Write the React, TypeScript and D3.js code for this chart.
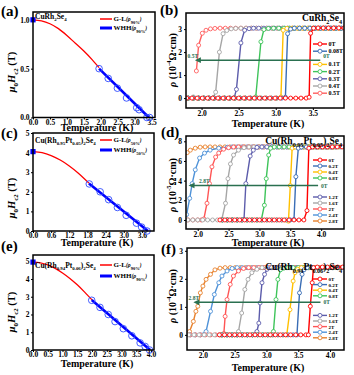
import { useEffect, useRef } from 'react';
import * as d3 from 'd3';

type Pt = [number, number];
type Part = [string, string];

const SERIF = "'Liberation Serif','Times New Roman',serif";

// ---------- (a) CuRh2Se4 : upper critical field ----------
const aTempTicks = [0, 0.5, 1, 1.5, 2, 2.5, 3, 3.5];
const aFieldTicks = [0, 0.5, 1];
const aGLTemp = [0, 0.25, 0.5, 0.75, 1, 1.25, 1.5, 1.75, 1.95];
const aGLField = [1.0, 0.99, 0.96, 0.91, 0.84, 0.76, 0.68, 0.59, 0.51];
const aWHHTemp = [1.95, 3.42];
const aWHHField = [0.5, 0];
const aPointTemp = [1.95, 2.22, 2.49, 2.76, 3.06, 3.13, 3.36, 3.44];
const aPointField = [0.5, 0.4, 0.3, 0.2, 0.1, 0.08, 0, 0];
const aHc0 = 1.0;

// ---------- (c) Cu(Rh0.95Pt0.05)2Se4 ----------
const cTempTicks = [0, 0.6, 1.2, 1.8, 2.4, 3.0, 3.6];
const cFieldTicks = [0, 1, 2, 3, 4, 5];
const cGLTemp = [0, 0.3, 0.6, 0.9, 1.2, 1.5, 1.85];
const cGLField = [4.05, 4.0, 3.85, 3.62, 3.32, 2.95, 2.44];
const cWHHTemp = [1.85, 3.8];
const cWHHField = [2.42, 0];
const cPointTemp = [1.86, 2.22, 2.5, 2.79, 3.08, 3.42, 3.59, 3.77];
const cPointField = [2.4, 2.0, 1.6, 1.2, 0.8, 0.4, 0.2, 0];
const cHc0 = 4.05;

// ---------- (e) Cu(Rh0.94Pt0.06)2Se4 ----------
const eTempTicks = [0, 0.5, 1, 1.5, 2, 2.5, 3, 3.5, 4];
const eFieldTicks = [0, 1, 2, 3, 4, 5];
const eGLTemp = [0, 0.25, 0.5, 0.75, 1, 1.25, 1.5, 1.75, 2.0];
const eGLField = [4.95, 4.91, 4.79, 4.6, 4.34, 4.03, 3.67, 3.26, 2.82];
const eWHHTemp = [1.99, 3.97];
const eWHHField = [2.82, 0];
const ePointTemp = [1.99, 2.27, 2.55, 2.78, 3.06, 3.35, 3.63, 3.8, 3.95];
const ePointField = [2.8, 2.4, 2.0, 1.6, 1.2, 0.8, 0.4, 0.2, 0];
const eHc0 = 4.95;

// ---------- (b) CuRh2Se4 : rho(T) under field ----------
const bTempTicks = [2.0, 2.5, 3.0, 3.5];
const bRhoTicks = [0, 1, 2, 3];
const bFields = ['0T', '0.08T', '0.1T', '0.2T', '0.3T', '0.4T', '0.5T'];
const b0T: Pt[] = [[1.8,0],[1.87,0],[1.94,0],[2.01,0],[2.08,0],[2.15,0],[2.22,0],[2.29,0],[2.36,0],[2.43,0],[2.5,0],[2.57,0],[2.64,0],[2.71,0],[2.78,0],[2.85,0],[2.92,0],[2.99,0],[3.06,0],[3.13,0],[3.2,0],[3.27,0],[3.34,0],[3.41,0],[3.45,0.04],[3.47,2.82],[3.51,3.04],[3.57,3.05],[3.64,3.05],[3.71,3.05],[3.78,3.05],[3.85,3.05],[3.92,3.05]];
const b008T: Pt[] = [[1.82,0],[1.89,0],[1.96,0],[2.03,0],[2.1,0],[2.17,0],[2.24,0],[2.31,0],[2.38,0],[2.45,0],[2.52,0],[2.59,0],[2.66,0],[2.73,0],[2.8,0],[2.87,0],[2.94,0],[3.01,0],[3.08,0],[3.13,0.04],[3.16,2.8],[3.2,3.0],[3.25,3.04],[3.32,3.04],[3.39,3.04],[3.46,3.04],[3.53,3.04],[3.6,3.04],[3.67,3.04],[3.74,3.04],[3.81,3.04],[3.88,3.04]];
const b01T: Pt[] = [[1.82,0],[1.89,0],[1.96,0],[2.03,0],[2.1,0],[2.17,0],[2.24,0],[2.31,0],[2.38,0],[2.45,0],[2.52,0],[2.59,0],[2.66,0],[2.73,0],[2.8,0],[2.87,0],[2.94,0],[3.01,0],[3.07,0.05],[3.1,2.95],[3.15,3.03],[3.22,3.04],[3.29,3.04],[3.36,3.04],[3.43,3.04],[3.5,3.04],[3.57,3.04],[3.64,3.04],[3.71,3.04],[3.78,3.04],[3.85,3.04]];
const b02T: Pt[] = [[1.82,0],[1.89,0],[1.96,0],[2.03,0],[2.1,0],[2.17,0],[2.24,0],[2.31,0],[2.38,0],[2.45,0],[2.52,0],[2.59,0],[2.66,0],[2.73,0.05],[2.8,2.45],[2.84,2.98],[2.9,3.03],[2.97,3.04],[3.04,3.04],[3.11,3.04],[3.18,3.04],[3.25,3.04],[3.32,3.04],[3.39,3.04],[3.46,3.04],[3.53,3.04],[3.6,3.04],[3.67,3.04],[3.74,3.04],[3.81,3.04],[3.88,3.04]];
const b03T: Pt[] = [[1.82,0],[1.89,0],[1.96,0],[2.03,0],[2.1,0],[2.17,0],[2.24,0],[2.31,0],[2.38,0],[2.44,0.02],[2.47,0.38],[2.53,2.4],[2.58,2.95],[2.64,3.02],[2.7,3.04],[2.77,3.04],[2.84,3.04],[2.91,3.04],[2.98,3.04],[3.05,3.04],[3.12,3.04],[3.19,3.04],[3.26,3.04],[3.33,3.04],[3.4,3.04],[3.47,3.04],[3.54,3.04],[3.61,3.04],[3.68,3.04],[3.75,3.04],[3.82,3.04],[3.89,3.04]];
const b04T: Pt[] = [[1.82,0],[1.89,0.05],[1.96,0],[2.03,0],[2.1,0],[2.16,0.03],[2.19,0.26],[2.24,2.0],[2.29,2.8],[2.34,2.94],[2.4,3.01],[2.46,3.03],[2.53,3.04],[2.6,3.04],[2.67,3.04],[2.74,3.04],[2.81,3.04],[2.88,3.04],[2.95,3.04],[3.02,3.04],[3.09,3.04],[3.16,3.04],[3.23,3.04],[3.3,3.04],[3.37,3.04],[3.44,3.04],[3.51,3.04],[3.58,3.04],[3.65,3.04],[3.72,3.04],[3.79,3.04],[3.86,3.04]];
const b05T: Pt[] = [[1.93,1.18],[1.96,2.3],[2.01,2.82],[2.06,2.95],[2.12,3.01],[2.18,3.03],[2.25,3.04],[2.32,3.04],[2.39,3.04],[2.46,3.04],[2.53,3.04],[2.6,3.04],[2.67,3.04],[2.74,3.04],[2.81,3.04],[2.88,3.04],[2.95,3.04],[3.02,3.04],[3.09,3.04],[3.16,3.04],[3.23,3.04],[3.3,3.04],[3.37,3.04],[3.44,3.04],[3.51,3.04],[3.58,3.04],[3.65,3.04],[3.72,3.04],[3.79,3.04],[3.86,3.04]];
const bArrowRho = 1.65;
const bArrowTemp = [1.91, 3.6];

// ---------- (d) Cu(Rh0.95Pt0.05)2Se4 : rho(T) ----------
const dTempTicks = [2.0, 2.5, 3.0, 3.5, 4.0];
const dRhoTicks = [0, 2, 4, 6, 8];
const dFields = ['0T', '0.2T', '0.4T', '0.8T', '1.2T', '1.6T', '2T', '2.4T', '2.8T'];
const d0T: Pt[] = [[2.36,0],[2.44,0],[2.52,0],[2.6,0],[2.68,0],[2.76,0],[2.84,0],[2.92,0],[3.0,0],[3.08,0],[3.16,0],[3.24,0],[3.32,0],[3.4,0],[3.48,0],[3.56,0],[3.64,0],[3.72,0],[3.77,0.95],[3.8,7.3],[3.86,7.43],[3.94,7.43],[4.02,7.43],[4.1,7.43],[4.18,7.43],[4.26,7.43],[4.34,7.43],[4.42,7.43]];
const d02T: Pt[] = [[2.4,0],[2.48,0],[2.56,0],[2.64,0],[2.72,0],[2.8,0],[2.88,0],[2.96,0],[3.04,0],[3.12,0],[3.2,0],[3.28,0],[3.36,0],[3.44,0],[3.5,0],[3.56,0.05],[3.59,4.4],[3.63,7.3],[3.68,7.42],[3.76,7.43],[3.84,7.43],[3.92,7.43],[4.0,7.43],[4.08,7.43],[4.16,7.43],[4.24,7.43],[4.32,7.43]];
const d04T: Pt[] = [[2.4,0],[2.48,0],[2.56,0],[2.64,0],[2.72,0],[2.8,0],[2.88,0],[2.96,0],[3.04,0],[3.12,0],[3.2,0],[3.28,0],[3.36,0],[3.42,0],[3.47,-0.12],[3.5,3.5],[3.53,7.3],[3.58,7.42],[3.66,7.43],[3.74,7.43],[3.82,7.43],[3.9,7.43],[3.98,7.43],[4.06,7.43],[4.14,7.43],[4.22,7.43],[4.3,7.43]];
const d08T: Pt[] = [[2.4,0],[2.48,0],[2.56,0],[2.64,0],[2.72,0],[2.8,0],[2.88,0],[2.96,0],[3.03,0],[3.08,1.5],[3.11,4.2],[3.15,6.6],[3.18,7.3],[3.24,7.42],[3.32,7.43],[3.4,7.43],[3.48,7.43],[3.56,7.43],[3.64,7.43],[3.72,7.43],[3.8,7.43],[3.88,7.43],[3.96,7.43],[4.04,7.43],[4.12,7.43],[4.2,7.43],[4.28,7.43]];
const d12T: Pt[] = [[2.4,0],[2.48,0],[2.56,0],[2.64,0],[2.71,0],[2.75,0.05],[2.78,3.7],[2.85,6.5],[2.9,7.1],[2.96,7.38],[3.04,7.43],[3.12,7.43],[3.2,7.43],[3.28,7.43],[3.36,7.43],[3.44,7.43],[3.52,7.43],[3.6,7.43],[3.68,7.43],[3.76,7.43],[3.84,7.43],[3.92,7.43],[4.0,7.43],[4.08,7.43],[4.16,7.43],[4.24,7.43]];
const d16T: Pt[] = [[1.84,0],[1.92,0],[2.0,0],[2.08,0],[2.16,0],[2.24,0],[2.32,0],[2.39,0.05],[2.45,1.7],[2.49,4.2],[2.53,5.7],[2.58,6.6],[2.66,7.1],[2.75,7.35],[2.83,7.42],[2.91,7.43],[2.99,7.43],[3.07,7.43],[3.15,7.43],[3.23,7.43],[3.31,7.43],[3.39,7.43],[3.47,7.43],[3.55,7.43],[3.63,7.43],[3.71,7.43],[3.79,7.43],[3.87,7.43],[3.95,7.43],[4.03,7.43],[4.11,7.43],[4.19,7.43]];
const d2T: Pt[] = [[1.84,0],[1.92,0],[2.0,0],[2.06,0],[2.1,0.1],[2.15,1.7],[2.19,3.7],[2.23,5.4],[2.29,6.4],[2.34,6.8],[2.42,7.2],[2.5,7.35],[2.58,7.42],[2.66,7.43],[2.74,7.43],[2.82,7.43],[2.9,7.43],[2.98,7.43],[3.06,7.43],[3.14,7.43],[3.22,7.43],[3.3,7.43],[3.38,7.43],[3.46,7.43],[3.54,7.43],[3.62,7.43],[3.7,7.43],[3.78,7.43],[3.86,7.43],[3.94,7.43],[4.02,7.43],[4.1,7.43],[4.18,7.43]];
const d24T: Pt[] = [[1.82,0.55],[1.87,2.2],[1.91,3.7],[1.96,5.1],[2.03,6.3],[2.11,6.8],[2.2,7.1],[2.34,7.3],[2.48,7.4],[2.56,7.43],[2.64,7.43],[2.72,7.43],[2.8,7.43],[2.88,7.43],[2.96,7.43],[3.04,7.43],[3.12,7.43],[3.2,7.43],[3.28,7.43],[3.36,7.43],[3.44,7.43],[3.52,7.43],[3.6,7.43],[3.68,7.43],[3.76,7.43],[3.84,7.43],[3.92,7.43],[4.0,7.43],[4.08,7.43],[4.16,7.43]];
const d28T: Pt[] = [[1.83,6.85],[1.88,7.1],[1.96,7.3],[2.04,7.4],[2.12,7.43],[2.2,7.43],[2.28,7.43],[2.36,7.43],[2.44,7.43],[2.52,7.43],[2.6,7.43],[2.68,7.43],[2.76,7.43],[2.84,7.43],[2.92,7.43],[3.0,7.43],[3.08,7.43],[3.16,7.43],[3.24,7.43],[3.32,7.43],[3.4,7.43],[3.48,7.43],[3.56,7.43],[3.64,7.43],[3.72,7.43],[3.8,7.43],[3.88,7.43],[3.96,7.43],[4.04,7.43],[4.12,7.43],[4.2,7.43]];
const dArrowRho = 3.5;
const dArrowTemp = [1.85, 3.95];

// ---------- (f) Cu(Rh0.94Pt0.06)2Se4 : rho(T) ----------
const fTempTicks = [2.0, 2.5, 3.0, 3.5, 4.0];
const fRhoTicks = [0, 1, 2, 3];
const fFields = ['0T', '0.2T', '0.4T', '0.8T', '1.2T', '1.6T', '2T', '2.4T', '2.8T'];
const f0T: Pt[] = [[2.26,0],[2.34,0],[2.42,0],[2.5,0],[2.58,0],[2.66,0],[2.74,0],[2.82,0],[2.9,0],[2.98,0],[3.06,0],[3.14,0],[3.22,0],[3.3,0],[3.38,0],[3.46,0],[3.54,0],[3.62,0],[3.66,0],[3.69,1.02],[3.72,1.86],[3.74,2.4],[3.8,2.42],[3.88,2.42],[3.96,2.42],[4.04,2.42],[4.12,2.42],[4.2,2.42],[4.3,2.42]];
const f02T: Pt[] = [[2.3,0],[2.38,0],[2.46,0],[2.54,0],[2.62,0],[2.7,0],[2.78,0],[2.86,0],[2.94,0],[3.02,0],[3.1,0],[3.18,0],[3.26,0],[3.34,0],[3.42,0],[3.48,0],[3.52,1.5],[3.56,2.16],[3.59,2.32],[3.64,2.4],[3.72,2.4],[3.8,2.4],[3.88,2.4],[3.96,2.4],[4.04,2.4],[4.12,2.4],[4.2,2.4]];
const f04T: Pt[] = [[2.3,0],[2.38,0],[2.46,0],[2.54,0],[2.62,0],[2.7,0],[2.78,0],[2.86,0],[2.94,0],[3.02,0],[3.1,0],[3.18,0],[3.26,0],[3.32,0],[3.37,0.9],[3.42,1.92],[3.45,2.22],[3.49,2.34],[3.55,2.4],[3.63,2.4],[3.71,2.4],[3.79,2.4],[3.87,2.4],[3.95,2.4],[4.03,2.4],[4.11,2.4],[4.19,2.4]];
const f08T: Pt[] = [[2.3,0],[2.38,0],[2.46,0],[2.54,0],[2.62,0],[2.7,0],[2.78,0],[2.86,0],[2.94,0],[3.02,0],[3.07,0],[3.11,0.12],[3.15,1.26],[3.18,1.98],[3.22,2.32],[3.27,2.38],[3.34,2.4],[3.42,2.4],[3.5,2.4],[3.58,2.4],[3.66,2.4],[3.74,2.4],[3.82,2.4],[3.9,2.4],[3.98,2.4],[4.06,2.4],[4.14,2.4]];
const f12T: Pt[] = [[2.3,0],[2.38,0],[2.46,0],[2.54,0],[2.62,0],[2.7,0],[2.78,0],[2.85,0.12],[2.88,0.42],[2.9,1.14],[2.93,1.86],[2.97,2.16],[3.01,2.34],[3.08,2.4],[3.16,2.4],[3.24,2.4],[3.32,2.4],[3.4,2.4],[3.48,2.4],[3.56,2.4],[3.64,2.4],[3.72,2.4],[3.8,2.4],[3.88,2.4],[3.96,2.4],[4.04,2.4],[4.12,2.4]];
const f16T: Pt[] = [[1.78,0],[1.86,0],[1.94,0],[2.02,0],[2.1,0],[2.18,0],[2.26,0],[2.34,0],[2.42,0],[2.5,0],[2.56,0.12],[2.61,0.78],[2.66,1.62],[2.71,1.98],[2.77,2.22],[2.85,2.34],[2.93,2.4],[3.01,2.4],[3.09,2.4],[3.17,2.4],[3.25,2.4],[3.33,2.4],[3.41,2.4],[3.49,2.4],[3.57,2.4],[3.65,2.4],[3.73,2.4],[3.81,2.4],[3.89,2.4],[3.97,2.4],[4.05,2.4],[4.13,2.4]];
const f2T: Pt[] = [[1.8,0],[1.88,0],[1.96,0],[2.04,0],[2.12,0],[2.2,0],[2.28,0],[2.33,0.05],[2.35,0.66],[2.38,1.26],[2.43,1.8],[2.48,2.1],[2.56,2.28],[2.64,2.37],[2.72,2.4],[2.8,2.4],[2.88,2.4],[2.96,2.4],[3.04,2.4],[3.12,2.4],[3.2,2.4],[3.28,2.4],[3.36,2.4],[3.44,2.4],[3.52,2.4],[3.6,2.4],[3.68,2.4],[3.76,2.4],[3.84,2.4],[3.92,2.4],[4.0,2.4],[4.08,2.4],[4.16,2.4]];
const f24T: Pt[] = [[1.8,0],[1.88,0],[1.96,0],[2.02,0.02],[2.05,0.12],[2.12,0.84],[2.18,1.44],[2.25,1.86],[2.3,2.1],[2.38,2.28],[2.46,2.37],[2.54,2.4],[2.62,2.4],[2.7,2.4],[2.78,2.4],[2.86,2.4],[2.94,2.4],[3.02,2.4],[3.1,2.4],[3.18,2.4],[3.26,2.4],[3.34,2.4],[3.42,2.4],[3.5,2.4],[3.58,2.4],[3.66,2.4],[3.74,2.4],[3.82,2.4],[3.9,2.4],[3.98,2.4],[4.06,2.4],[4.14,2.4]];
const f28T: Pt[] = [[1.79,0.12],[1.85,0.48],[1.89,0.84],[1.92,1.02],[1.96,1.5],[2.0,1.74],[2.05,1.98],[2.12,2.16],[2.19,2.32],[2.27,2.38],[2.35,2.4],[2.43,2.4],[2.51,2.4],[2.59,2.4],[2.67,2.4],[2.75,2.4],[2.83,2.4],[2.91,2.4],[2.99,2.4],[3.07,2.4],[3.15,2.4],[3.23,2.4],[3.31,2.4],[3.39,2.4],[3.47,2.4],[3.55,2.4],[3.63,2.4],[3.71,2.4],[3.79,2.4],[3.87,2.4],[3.95,2.4],[4.03,2.4],[4.11,2.4]];
const fArrowRho = 1.16;
const fArrowTemp = [1.85, 3.85];

const aTitle: Part[] = [['CuRh', ''], ['2', 'sub'], ['Se', ''], ['4', 'sub']];
const cTitle: Part[] = [['Cu(Rh', ''], ['0.95', 'sub'], ['Pt', ''], ['0.05', 'sub'], [')', ''], ['2', 'sub'], ['Se', ''], ['4', 'sub']];
const eTitle: Part[] = [['Cu(Rh', ''], ['0.94', 'sub'], ['Pt', ''], ['0.06', 'sub'], [')', ''], ['2', 'sub'], ['Se', ''], ['4', 'sub']];

const palette7 = ['#ff0000', '#3a6db5', '#ffc000', '#3ec45a', '#5c5cab', '#a6a6a6', '#ff6060'];
const palette9 = ['#ff0000', '#3a6db5', '#ffc000', '#3ec45a', '#5c5cab', '#a6a6a6', '#ff5555', '#4f92d8', '#e8812c'];
const ARROW = '#2a7050';

function rich(text: any, parts: Part[], size: number) {
  let shift = 0;
  parts.forEach(([s, k]) => {
    const small = k === 'sub' || k === 'sup';
    const target = k === 'sub' ? size * 0.3 : k === 'sup' ? -size * 0.42 : 0;
    text.append('tspan')
      .attr('dy', target - shift)
      .attr('font-size', small ? size * 0.65 : k === 'smi' ? size * 0.8 : size)
      .attr('font-style', k === 'i' || k === 'smi' ? 'italic' : null)
      .text(s);
    shift = target;
  });
}

function styleAxis(g: any) {
  g.select('.domain').remove();
  g.selectAll('line').attr('stroke', '#000').attr('stroke-width', 1);
  g.selectAll('text')
    .attr('font-family', SERIF)
    .attr('font-size', 7.5)
    .attr('font-weight', 'bold')
    .attr('fill', '#000');
}

function label(svg: any, txt: string, x: number, y: number, size: number) {
  svg.append('text').attr('x', x).attr('y', y)
    .attr('font-family', SERIF).attr('font-weight', 'bold').attr('font-size', size).text(txt);
}

function drawHc(svg: any, p: any) {
  const [x0, x1, y0, y1] = p.box;
  const x = d3.scaleLinear().domain(p.xDom).range([x0, x1]);
  const y = d3.scaleLinear().domain(p.yDom).range([y1, y0]);
  const g = svg.append('g');

  const ax = g.append('g').attr('transform', `translate(0,${y1})`)
    .call(d3.axisBottom(x).tickValues(p.xTicks).tickFormat(d3.format('.1f')).tickSizeInner(2).tickSizeOuter(0).tickPadding(0));
  styleAxis(ax);
  const ay = g.append('g').attr('transform', `translate(${x0},0)`)
    .call(d3.axisLeft(y).tickValues(p.yTicks).tickFormat(d3.format(p.yFmt)).tickSizeInner(2).tickSizeOuter(0).tickPadding(1.5));
  styleAxis(ay);

  const gl = d3.line<number>().x((_, i) => x(p.glT[i])).y(d => y(d)).curve(d3.curveMonotoneX);
  g.append('path').attr('d', gl(p.glH)).attr('fill', 'none').attr('stroke', '#ff0000').attr('stroke-width', 1.3);
  const wl = d3.line<number>().x((_, i) => x(p.whT[i])).y(d => y(d));
  g.append('path').attr('d', wl(p.whH)).attr('fill', 'none').attr('stroke', '#0000ff').attr('stroke-width', 2.6);
  g.selectAll(null).data(p.ptH).enter().append('circle')
    .attr('cx', (_: any, i: number) => x(p.ptT[i])).attr('cy', (d: number) => y(d)).attr('r', 3.3)
    .attr('fill', 'none').attr('stroke', '#2f4bff').attr('stroke-width', 0.9);
  g.append('rect').attr('x', x(0) - 2.6).attr('y', y(p.hc0) - 2.6).attr('width', 5.2).attr('height', 5.2).attr('fill', '#0000ff');

  g.append('rect').attr('x', x0).attr('y', y0).attr('width', x1 - x0).attr('height', y1 - y0)
    .attr('fill', 'none').attr('stroke', '#000').attr('stroke-width', 1.5);

  // legend
  const rows = [
    { c: '#ff0000', w: 1.5, t: 'G-L' },
    { c: '#0000ff', w: 3, t: 'WHH' },
  ];
  rows.forEach((r, i) => {
    const yy = p.legendY[i];
    g.append('line').attr('x1', 100).attr('x2', 112).attr('y1', yy).attr('y2', yy).attr('stroke', r.c).attr('stroke-width', r.w);
    const t = g.append('text').attr('x', 113.5).attr('y', yy + 2.4)
      .attr('font-family', SERIF).attr('font-weight', 'bold').attr('font-size', 7);
    rich(t, [[r.t, ''], ['(ρ', 'smi'], [p.sub, 'sub'], [')', 'smi']], 7);
  });

  const tt = g.append('text').attr('x', x0 + 2).attr('y', p.titleY)
    .attr('font-family', SERIF).attr('font-weight', 'bold').attr('font-size', 7.5);
  rich(tt, p.title, 7.5);

  g.append('text').attr('x', 97).attr('y', p.xTitleY).attr('text-anchor', 'middle')
    .attr('font-family', SERIF).attr('font-weight', 'bold').attr('font-size', 10).text('Temperature (K)');
  const yt = g.append('text').attr('transform', `translate(15,${p.yTitleY}) rotate(-90)`).attr('text-anchor', 'middle')
    .attr('font-family', SERIF).attr('font-weight', 'bold').attr('font-size', 10.5);
  rich(yt, [['μ', 'i'], ['0', 'sub'], ['H', 'i'], ['c2', 'sub'], [' (T)', '']], 10.5);

  label(svg, p.letter, p.letterPos[0], p.letterPos[1], 15);
}

function drawRho(svg: any, p: any) {
  const [x0, x1, y0, y1] = p.box;
  const x = d3.scaleLinear().domain(p.xDom).range([x0, x1]);
  const y = d3.scaleLinear().domain(p.yDom).range([y1, y0]);
  const g = svg.append('g');

  const ax = g.append('g').attr('transform', `translate(0,${y1})`)
    .call(d3.axisBottom(x).tickValues(p.xTicks).tickFormat(d3.format('.1f')).tickSizeInner(2).tickSizeOuter(0).tickPadding(0.5));
  styleAxis(ax);
  const ay = g.append('g').attr('transform', `translate(${x0},0)`)
    .call(d3.axisLeft(y).tickValues(p.yTicks).tickFormat(d3.format('d')).tickSizeInner(2).tickSizeOuter(0).tickPadding(2));
  styleAxis(ay);

  const id = 'clip-' + p.key;
  g.append('clipPath').attr('id', id).append('rect')
    .attr('x', x0).attr('y', y0).attr('width', x1 - x0).attr('height', y1 - y0);
  const plot = g.append('g').attr('clip-path', `url(#${id})`);
  const line = d3.line<Pt>().x(d => x(d[0])).y(d => y(d[1]));

  // high field first, so the zero-field curve ends up on top
  for (let i = p.series.length - 1; i >= 0; i--) {
    const s: Pt[] = p.series[i];
    const c = p.colors[i];
    plot.append('path').attr('d', line(s)).attr('fill', 'none').attr('stroke', c).attr('stroke-width', 1.4);
    plot.selectAll(null).data(s).enter().append('circle')
      .attr('cx', (d: Pt) => x(d[0])).attr('cy', (d: Pt) => y(d[1])).attr('r', 2)
      .attr('fill', '#fff').attr('stroke', c).attr('stroke-width', 0.9);
  }

  // arrow from 0T toward the highest field
  const ay0 = y(p.arrowRho);
  const xa = x(p.arrowT[0]);
  const xb = x(p.arrowT[1]);
  plot.append('line').attr('x1', xa + 4).attr('x2', xb).attr('y1', ay0).attr('y2', ay0)
    .attr('stroke', ARROW).attr('stroke-width', 1.5);
  plot.append('path').attr('d', `M${xa},${ay0} L${xa + 6},${ay0 - 2.8} L${xa + 6},${ay0 + 2.8} Z`).attr('fill', ARROW);
  g.append('text').attr('x', x0 + p.arrowLabelDx).attr('y', ay0 - 2.5).attr('fill', ARROW)
    .attr('font-family', SERIF).attr('font-weight', 'bold').attr('font-size', 5.5).text(p.fields[p.fields.length - 1]);
  g.append('text').attr('x', xb + 3).attr('y', ay0 + p.zeroLabelDy).attr('fill', ARROW)
    .attr('font-family', SERIF).attr('font-weight', 'bold').attr('font-size', 5.5).text('0T');

  // legend
  p.fields.forEach((f: string, i: number) => {
    const yy = p.legY + i * p.legStep + (i >= p.legGapAt ? p.legGap : 0);
    const c = p.colors[i];
    g.append('line').attr('x1', 313).attr('x2', 327).attr('y1', yy).attr('y2', yy).attr('stroke', c).attr('stroke-width', 1.4);
    g.append('circle').attr('cx', 320).attr('cy', yy).attr('r', 2).attr('fill', '#fff').attr('stroke', c).attr('stroke-width', 0.9);
    g.append('text').attr('x', 328.5).attr('y', yy + 1.9)
      .attr('font-family', SERIF).attr('font-weight', 'bold').attr('font-size', p.legSize).text(f);
  });

  g.append('rect').attr('x', x0).attr('y', y0).attr('width', x1 - x0).attr('height', y1 - y0)
    .attr('fill', 'none').attr('stroke', '#000').attr('stroke-width', 1.5);

  const tt = g.append('text').attr('x', x1 - 2).attr('y', p.titleY).attr('text-anchor', 'end')
    .attr('font-family', SERIF).attr('font-weight', 'bold').attr('font-size', 9.5);
  rich(tt, p.title, 9.5);

  g.append('text').attr('x', 268).attr('y', p.xTitleY).attr('text-anchor', 'middle')
    .attr('font-family', SERIF).attr('font-weight', 'bold').attr('font-size', 10).text('Temperature (K)');
  const yt = g.append('text').attr('transform', `translate(175.5,${p.yTitleY}) rotate(-90)`).attr('text-anchor', 'middle')
    .attr('font-family', SERIF).attr('font-weight', 'bold').attr('font-size', 10);
  rich(yt, [['ρ', 'i'], [' (10', ''], [p.exp, 'sup'], ['Ω·cm)', '']], 10);

  label(svg, p.letter, p.letterPos[0], p.letterPos[1], 15);
}

const hcPanels = [
  { letter: '(a)', letterPos: [1, 16], box: [33, 155, 12, 117.5], xDom: [0, 3.6], yDom: [0, 1.08], yFmt: '.1f',
    xTicks: aTempTicks, yTicks: aFieldTicks, glT: aGLTemp, glH: aGLField, whT: aWHHTemp, whH: aWHHField,
    ptT: aPointTemp, ptH: aPointField, hc0: aHc0, title: aTitle, titleY: 18.5, legendY: [19, 28], sub: '90%',
    xTitleY: 131, yTitleY: 72 },
  { letter: '(c)', letterPos: [1, 138], box: [33, 154, 133, 231], xDom: [0, 4.0], yDom: [0, 5], yFmt: 'd',
    xTicks: cTempTicks, yTicks: cFieldTicks, glT: cGLTemp, glH: cGLField, whT: cWHHTemp, whH: cWHHField,
    ptT: cPointTemp, ptH: cPointField, hc0: cHc0, title: cTitle, titleY: 143, legendY: [140, 150], sub: '50%',
    xTitleY: 246, yTitleY: 198 },
  { letter: '(e)', letterPos: [1, 251], box: [33, 154, 255, 350], xDom: [0, 4.1], yDom: [0, 5.35], yFmt: 'd',
    xTicks: eTempTicks, yTicks: eFieldTicks, glT: eGLTemp, glH: eGLField, whT: eWHHTemp, whH: eWHHField,
    ptT: ePointTemp, ptH: ePointField, hc0: eHc0, title: eTitle, titleY: 268, legendY: [265, 276], sub: '90%',
    xTitleY: 367, yTitleY: 312 },
];

const rhoPanels = [
  { key: 'b', letter: '(b)', letterPos: [160, 15], box: [186, 344, 13, 108], xDom: [1.79, 3.92], yDom: [-0.43, 3.7],
    xTicks: bTempTicks, yTicks: bRhoTicks, fields: bFields, colors: palette7,
    series: [b0T, b008T, b01T, b02T, b03T, b04T, b05T],
    arrowRho: bArrowRho, arrowT: bArrowTemp, arrowLabelDx: 1.5, zeroLabelDy: -2,
    legY: 44, legStep: 7.2, legGapAt: 2, legGap: 6, legSize: 6,
    title: aTitle, titleY: 21, xTitleY: 127, yTitleY: 60, exp: '-4' },
  { key: 'd', letter: '(d)', letterPos: [161, 137], box: [186, 344, 136, 229], xDom: [1.81, 4.37], yDom: [-0.92, 8.54],
    xTicks: dTempTicks, yTicks: dRhoTicks, fields: dFields, colors: palette9,
    series: [d0T, d02T, d04T, d08T, d12T, d16T, d2T, d24T, d28T],
    arrowRho: dArrowRho, arrowT: dArrowTemp, arrowLabelDx: 13, zeroLabelDy: 2,
    legY: 160, legStep: 6, legGapAt: 4, legGap: 13, legSize: 5,
    title: cTitle, titleY: 144, xTitleY: 246, yTitleY: 185, exp: '-5' },
  { key: 'f', letter: '(f)', letterPos: [161, 254], box: [187, 344, 248, 350], xDom: [1.75, 4.22], yDom: [-0.54, 3.1],
    xTicks: fTempTicks, yTicks: fRhoTicks, fields: fFields, colors: palette9,
    series: [f0T, f02T, f04T, f08T, f12T, f16T, f2T, f24T, f28T],
    arrowRho: fArrowRho, arrowT: fArrowTemp, arrowLabelDx: 1.5, zeroLabelDy: 2,
    legY: 279, legStep: 5.6, legGapAt: 4, legGap: 14, legSize: 5,
    title: eTitle, titleY: 270, xTitleY: 371, yTitleY: 296, exp: '-4' },
];

export default function App() {
  const ref = useRef<SVGSVGElement>(null);

  useEffect(() => {
    const svg = d3.select(ref.current);
    svg.selectAll('*').remove();
    hcPanels.forEach(p => drawHc(svg, p));
    rhoPanels.forEach(p => drawRho(svg, p));
  }, []);

  return (
    <svg ref={ref} width={354} height={375}
      style={{ position: 'absolute', left: 0, top: 0, background: '#fff' }} />
  );
}
